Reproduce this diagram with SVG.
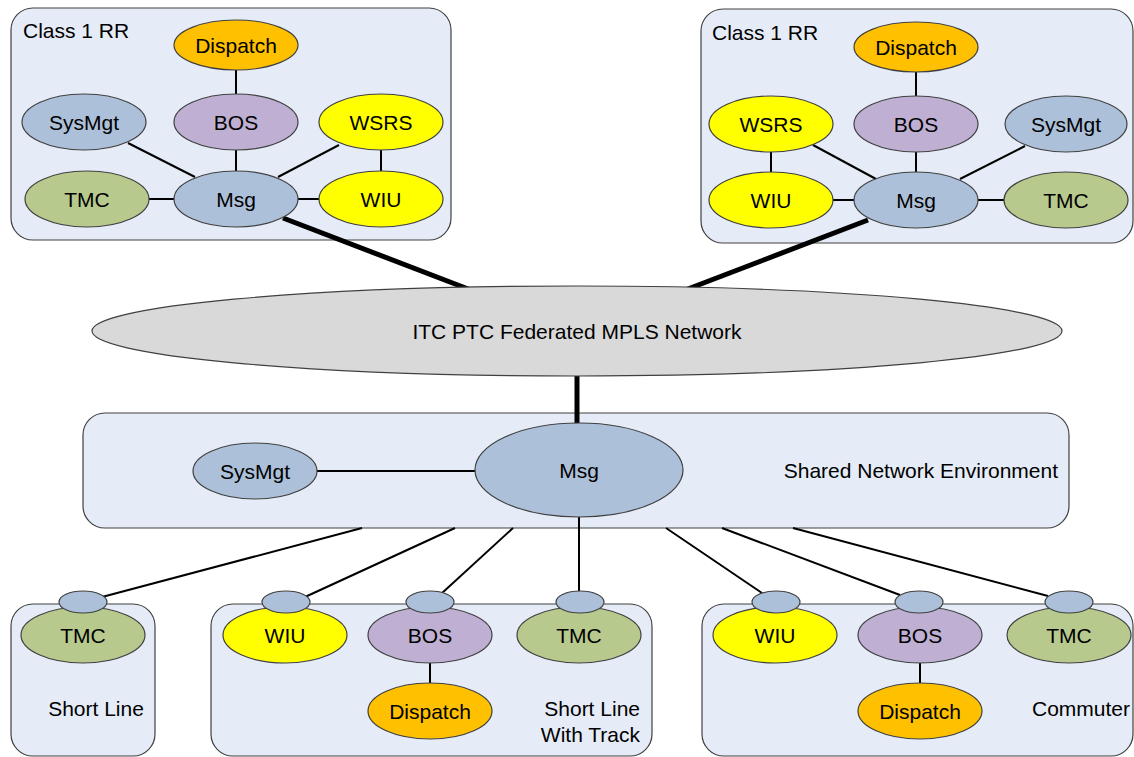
<svg xmlns="http://www.w3.org/2000/svg" width="1134" height="757" viewBox="0 0 1134 757">
<style>
text{font-family:"Liberation Sans",Arial,sans-serif;font-size:21px;fill:#000}
.c{text-anchor:middle;dominant-baseline:central}
.e{text-anchor:end;dominant-baseline:central}
.box{fill:#e6ecf7;stroke:#404040;stroke-width:1.2}
.n{stroke:#404040;stroke-width:1.2}
.msg{fill:#adc0d9}
.bos{fill:#bfb0d3}
.dis{fill:#ffc000}
.wiu{fill:#ffff00}
.tmc{fill:#b7c98c}
.port{fill:#adc0d9;stroke:#404040;stroke-width:1.2}
.l{stroke:#000;stroke-width:2;fill:none}
.t{stroke:#000;stroke-width:5;fill:none}
</style>
<g id="containers">
<rect id="c1-left" class="box" x="11" y="8" width="440" height="232" rx="22"/>
<text x="23" y="30" dominant-baseline="central">Class 1 RR</text>
<rect id="c1-right" class="box" x="701" y="9" width="432" height="234" rx="22"/>
<text x="712" y="32" dominant-baseline="central">Class 1 RR</text>
<rect id="shared" class="box" x="83" y="413" width="986" height="115" rx="22"/>
<text class="e" x="1058" y="470">Shared Network Environment</text>
<rect id="shortline" class="box" x="11" y="604" width="144" height="152" rx="22"/>
<text class="c" x="96" y="708">Short Line</text>
<rect id="shortline-track" class="box" x="211" y="604" width="441" height="152" rx="22"/>
<text class="e" x="640" y="708">Short Line</text>
<text class="e" x="640" y="734">With Track</text>
<rect id="commuter" class="box" x="702" y="604" width="431" height="152" rx="22"/>
<text class="e" x="1130" y="708">Commuter</text>
</g>
<g id="connectors">
<line class="l" x1="236" y1="69" x2="236" y2="95"/>
<line class="l" x1="236" y1="149" x2="236" y2="172"/>
<line class="l" x1="128" y1="143" x2="195" y2="177"/>
<line class="l" x1="339" y1="145" x2="278" y2="177"/>
<line class="l" x1="381" y1="149" x2="381" y2="172"/>
<line class="l" x1="149" y1="199" x2="174" y2="199"/>
<line class="l" x1="298" y1="199" x2="319" y2="199"/>
<line class="t" x1="283" y1="218" x2="476" y2="292"/>
<line class="l" x1="916" y1="71" x2="916" y2="97"/>
<line class="l" x1="916" y1="151" x2="916" y2="173"/>
<line class="l" x1="813" y1="145" x2="876" y2="179"/>
<line class="l" x1="1025" y1="146" x2="960" y2="179"/>
<line class="l" x1="771" y1="151" x2="771" y2="173"/>
<line class="l" x1="833" y1="200" x2="854" y2="200"/>
<line class="l" x1="978" y1="200" x2="1004" y2="200"/>
<line class="t" x1="868" y1="220" x2="680" y2="292"/>
<line class="t" x1="577" y1="374" x2="577" y2="424"/>
<line class="l" x1="317" y1="471" x2="476" y2="471"/>
<line class="l" x1="362" y1="528" x2="102" y2="597"/>
<line class="l" x1="455" y1="528" x2="305" y2="597"/>
<line class="l" x1="513" y1="528" x2="441" y2="594"/>
<line class="l" x1="579" y1="517" x2="579" y2="592"/>
<line class="l" x1="666" y1="528" x2="762" y2="593"/>
<line class="l" x1="722" y1="528" x2="900" y2="595"/>
<line class="l" x1="793" y1="528" x2="1048" y2="596"/>
<line class="l" x1="430" y1="662" x2="430" y2="684"/>
<line class="l" x1="920" y1="662" x2="920" y2="684"/>
</g>
<g id="mpls">
<ellipse cx="577" cy="331" rx="485" ry="45" fill="#d9d9d9" stroke="#404040" stroke-width="1.2"/>
<text class="c" x="577" y="331">ITC PTC Federated MPLS Network</text>
</g>
<g id="l-dispatch"><ellipse class="n dis" cx="236" cy="45" rx="62" ry="25"/><text class="c" x="236" y="45">Dispatch</text></g>
<g id="l-bos"><ellipse class="n bos" cx="236" cy="122" rx="62" ry="28"/><text class="c" x="236" y="122">BOS</text></g>
<g id="l-sysmgt"><ellipse class="n msg" cx="84" cy="122" rx="62" ry="28"/><text class="c" x="84" y="122">SysMgt</text></g>
<g id="l-wsrs"><ellipse class="n wiu" cx="381" cy="122" rx="62" ry="28"/><text class="c" x="381" y="122">WSRS</text></g>
<g id="l-tmc"><ellipse class="n tmc" cx="87" cy="199" rx="62" ry="28"/><text class="c" x="87" y="199">TMC</text></g>
<g id="l-msg"><ellipse class="n msg" cx="236" cy="199" rx="62" ry="28"/><text class="c" x="236" y="199">Msg</text></g>
<g id="l-wiu"><ellipse class="n wiu" cx="381" cy="199" rx="62" ry="28"/><text class="c" x="381" y="199">WIU</text></g>
<g id="r-dispatch"><ellipse class="n dis" cx="916" cy="47" rx="62" ry="25"/><text class="c" x="916" y="47">Dispatch</text></g>
<g id="r-bos"><ellipse class="n bos" cx="916" cy="124" rx="62" ry="28"/><text class="c" x="916" y="124">BOS</text></g>
<g id="r-wsrs"><ellipse class="n wiu" cx="771" cy="124" rx="62" ry="28"/><text class="c" x="771" y="124">WSRS</text></g>
<g id="r-sysmgt"><ellipse class="n msg" cx="1066" cy="124" rx="61" ry="28"/><text class="c" x="1066" y="124">SysMgt</text></g>
<g id="r-wiu"><ellipse class="n wiu" cx="771" cy="200" rx="62" ry="28"/><text class="c" x="771" y="200">WIU</text></g>
<g id="r-msg"><ellipse class="n msg" cx="916" cy="200" rx="62" ry="28"/><text class="c" x="916" y="200">Msg</text></g>
<g id="r-tmc"><ellipse class="n tmc" cx="1066" cy="200" rx="62" ry="28"/><text class="c" x="1066" y="200">TMC</text></g>
<g id="s-sysmgt"><ellipse class="n msg" cx="255" cy="471" rx="62" ry="28"/><text class="c" x="255" y="471">SysMgt</text></g>
<g id="s-msg"><ellipse class="n msg" cx="579" cy="470" rx="104" ry="47"/><text class="c" x="579" y="470">Msg</text></g>
<g id="sl-tmc"><ellipse class="n tmc" cx="83" cy="635" rx="62" ry="28"/><text class="c" x="83" y="635">TMC</text><ellipse class="port" cx="83" cy="602" rx="24" ry="11"/></g>
<g id="st-wiu"><ellipse class="n wiu" cx="285" cy="635" rx="62" ry="28"/><text class="c" x="285" y="635">WIU</text><ellipse class="port" cx="286" cy="602" rx="24" ry="11"/></g>
<g id="st-bos"><ellipse class="n bos" cx="430" cy="635" rx="62" ry="28"/><text class="c" x="430" y="635">BOS</text><ellipse class="port" cx="430" cy="602" rx="24" ry="11"/></g>
<g id="st-dispatch"><ellipse class="n dis" cx="430" cy="711" rx="62" ry="28"/><text class="c" x="430" y="711">Dispatch</text></g>
<g id="st-tmc"><ellipse class="n tmc" cx="579" cy="635" rx="62" ry="28"/><text class="c" x="579" y="635">TMC</text><ellipse class="port" cx="580" cy="602" rx="24" ry="11"/></g>
<g id="cm-wiu"><ellipse class="n wiu" cx="775" cy="635" rx="62" ry="28"/><text class="c" x="775" y="635">WIU</text><ellipse class="port" cx="776" cy="602" rx="24" ry="11"/></g>
<g id="cm-bos"><ellipse class="n bos" cx="920" cy="635" rx="62" ry="28"/><text class="c" x="920" y="635">BOS</text><ellipse class="port" cx="919" cy="602" rx="24" ry="11"/></g>
<g id="cm-dispatch"><ellipse class="n dis" cx="920" cy="711" rx="62" ry="28"/><text class="c" x="920" y="711">Dispatch</text></g>
<g id="cm-tmc"><ellipse class="n tmc" cx="1069" cy="635" rx="62" ry="28"/><text class="c" x="1069" y="635">TMC</text><ellipse class="port" cx="1069" cy="602" rx="24" ry="11"/></g>
</svg>
